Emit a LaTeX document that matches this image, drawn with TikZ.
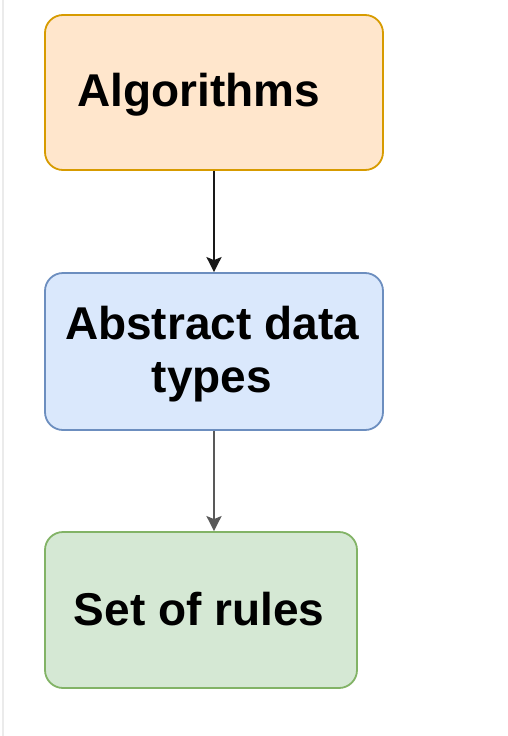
\documentclass[tikz,border=0pt]{standalone}
\usepackage{fontspec}
\setmainfont{Liberation Sans}
\usetikzlibrary{arrows.meta}
\definecolor{algfill}{HTML}{FFE6CC}
\definecolor{algline}{HTML}{D79B00}
\definecolor{adtfill}{HTML}{DAE8FC}
\definecolor{adtline}{HTML}{6C8EBF}
\definecolor{rulefill}{HTML}{D5E8D4}
\definecolor{ruleline}{HTML}{82B366}
\tikzset{
  box/.style={rectangle,rounded corners=18pt,line width=1.8pt,inner sep=0pt},
  lbl/.style={font=\fontsize{46}{53}\selectfont\bfseries,align=center,inner sep=0pt},
  link/.style={-{Stealth[length=15pt,width=15pt,inset=3pt]},line width=2.2pt}
}

\begin{document}
\begin{tikzpicture}[x=1pt,y=-1pt]
  \useasboundingbox (0,0) rectangle (508,736);
  \draw[black!8,line width=2pt] (3,0) -- (3,736);
  \node (alg) at (214,92.5) [box,fill=algfill,draw=algline,minimum width=338pt,minimum height=155pt] {};
  \node (adt) at (214,351.5) [box,fill=adtfill,draw=adtline,minimum width=338pt,minimum height=157pt] {};
  \node (rules) at (201,610) [box,fill=rulefill,draw=ruleline,minimum width=312pt,minimum height=156pt] {};
  \node (algt) at (199,95) [lbl] {Algorithms};
  \node (adtt) at (212,354) [lbl] {Abstract data\\types};
  \node (rulest) at (199,609) [lbl] {Set of rules};
  \draw[link,black!90] (alg) edge (adt);
  \draw[link,black!65] (adt) edge (rules.north -| adt);
\end{tikzpicture}
\end{document}
